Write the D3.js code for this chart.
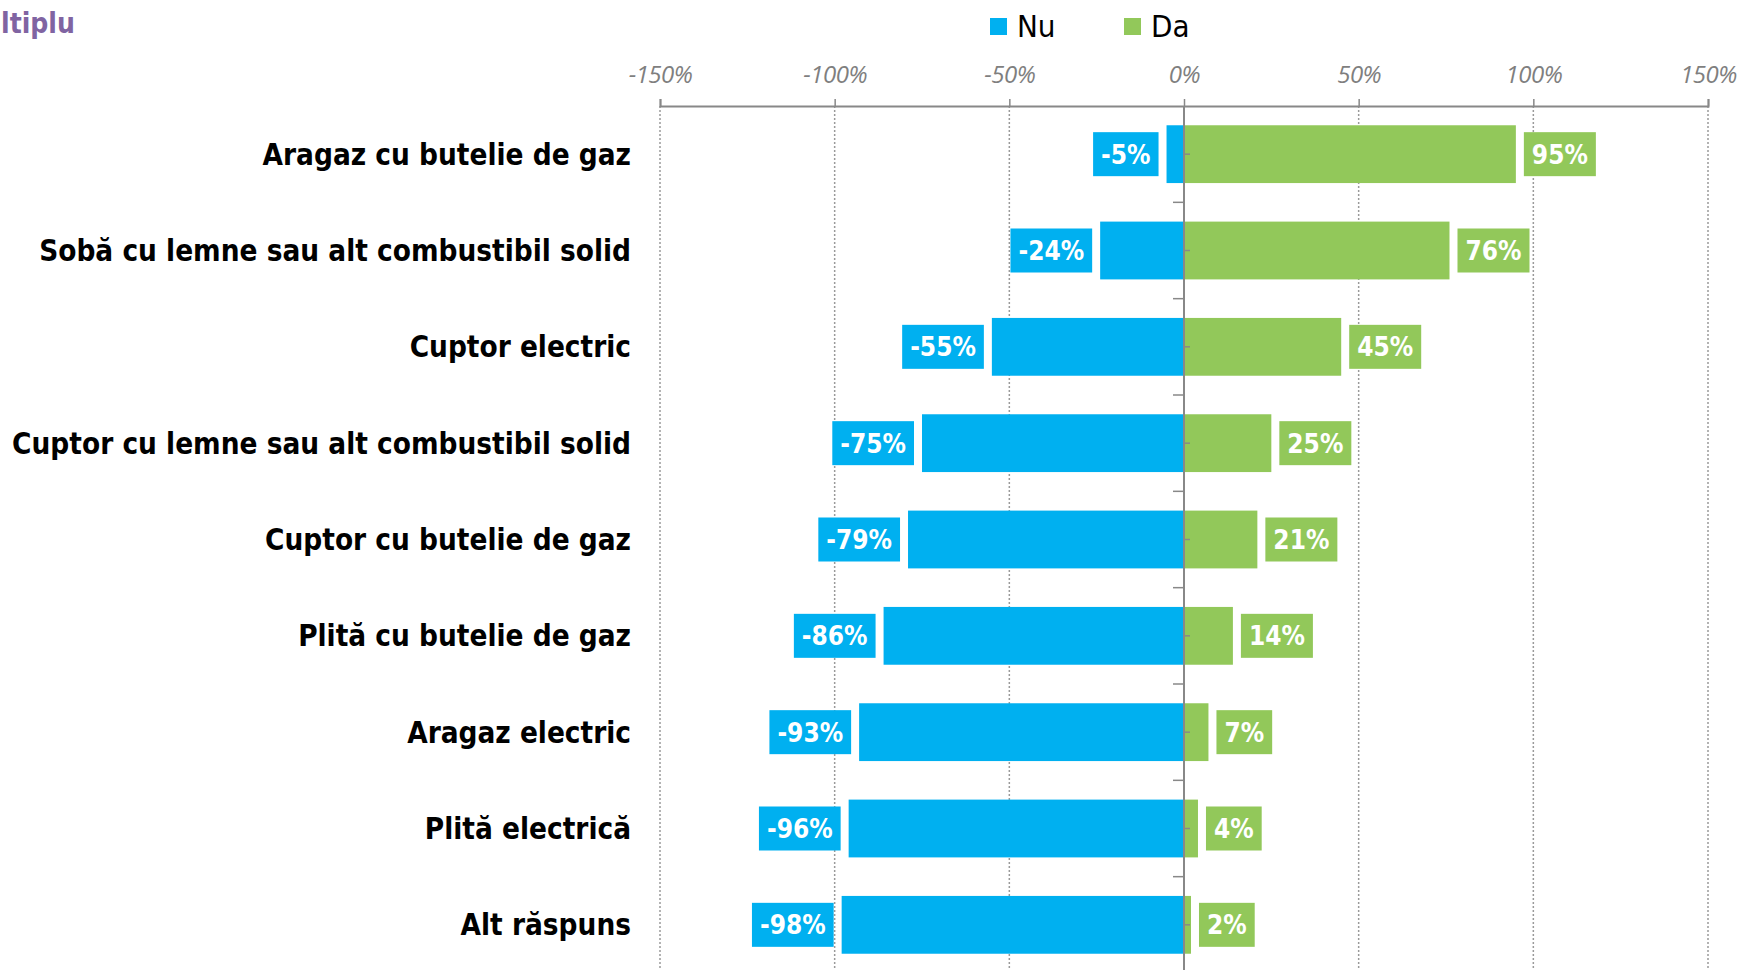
<!DOCTYPE html>
<html><head><meta charset="utf-8">
<script src="https://cdn.jsdelivr.net/npm/d3@7"></script>
<style>html,body{margin:0;padding:0;background:#fff;overflow:hidden}</style>
</head><body>
<svg id="chart" width="1742" height="970"></svg>
<script>
const categories = ["Aragaz cu butelie de gaz","Sobă cu lemne sau alt combustibil solid","Cuptor electric","Cuptor cu lemne sau alt combustibil solid","Cuptor cu butelie de gaz","Plită cu butelie de gaz","Aragaz electric","Plită electrică","Alt răspuns"];
const nuValues = [-5,-24,-55,-75,-79,-86,-93,-96,-98];
const daValues = [95,76,45,25,21,14,7,4,2];
const tickValues = [-150,-100,-50,0,50,100,150];
const seriesNames = ["Nu","Da"];
const colors = {Nu:"#00B0F0", Da:"#92C85A"};

const svg = d3.select("#chart");
const FONT = "'DejaVu Sans Condensed','DejaVu Sans',sans-serif";
const x = d3.scaleLinear().domain([-150,150]).range([660,1708]);
const y = d3.scaleBand().domain(categories).range([106,973]).paddingInner(0.4).paddingOuter(0.2);
const axisY = 106, bottom = 970;

// title fragment (visible part of the cropped title)
svg.append("text").attr("x",1).attr("y",33)
  .attr("font-family",FONT).attr("font-weight","bold").attr("font-size",28)
  .attr("fill","#8064A2").text("ltiplu");

// gridlines
svg.append("g").selectAll("line").data(tickValues.filter(d=>d!==0)).join("line")
  .attr("x1",d=>x(d)).attr("x2",d=>x(d)).attr("y1",axisY).attr("y2",bottom)
  .attr("stroke","#9a9a9a").attr("stroke-width",1.5).attr("stroke-dasharray","2,2");

// top axis
const ax = svg.append("g").attr("transform",`translate(0,${axisY})`)
  .call(d3.axisTop(x).tickValues(tickValues).tickSize(7).tickPadding(16).tickFormat(d=>d+"%"));
ax.select(".domain").attr("stroke","#888").attr("stroke-width",2);
ax.selectAll(".tick line").attr("stroke","#888").attr("stroke-width",1.5);
ax.selectAll(".tick text").attr("font-family","'Open Sans',sans-serif").attr("font-style","italic")
  .attr("font-size",24).attr("fill","#7f7f7f").attr("letter-spacing","-0.5");

// bars
const rows = categories.map((c,i)=>({c, nu:nuValues[i], da:daValues[i]}));
svg.append("g").selectAll("rect").data(rows).join("rect")
  .attr("x",d=>x(d.nu)).attr("width",d=>x(0)-x(d.nu))
  .attr("y",d=>y(d.c)).attr("height",y.bandwidth()).attr("fill",colors.Nu);
svg.append("g").selectAll("rect").data(rows).join("rect")
  .attr("x",x(0)).attr("width",d=>x(d.da)-x(0))
  .attr("y",d=>y(d.c)).attr("height",y.bandwidth()).attr("fill",colors.Da);

// vertical zero axis
svg.append("line").attr("x1",x(0)).attr("x2",x(0)).attr("y1",axisY).attr("y2",bottom)
  .attr("stroke","#888").attr("stroke-width",2);
const bounds = categories.slice(1).map(c=>y(c)-y.step()*y.paddingInner()/2);
svg.append("g").selectAll("line").data(bounds).join("line")
  .attr("x1",x(0)-11).attr("x2",x(0)).attr("y1",d=>d).attr("y2",d=>d)
  .attr("stroke","#888").attr("stroke-width",1.5);
svg.append("g").selectAll("line").data(categories).join("line")
  .attr("x1",x(0)).attr("x2",x(0)+6).attr("y1",d=>y(d)+y.bandwidth()/2).attr("y2",d=>y(d)+y.bandwidth()/2)
  .attr("stroke","#888").attr("stroke-width",1.5);

// category labels
const catG = svg.append("g");
const catTexts = catG.selectAll("text").data(categories).join("text")
  .attr("x",631).attr("y",d=>y(d)+y.bandwidth()/2).attr("dy","0.36em")
  .attr("text-anchor","end").attr("font-family",FONT).attr("font-weight","bold")
  .attr("font-size",28).attr("fill","#000").text(d=>d);
let maxW = d3.max(catTexts.nodes(), n=>n.getComputedTextLength());
catTexts.attr("font-size", 28*619/maxW);

// value labels
function valueLabel(g, val, cat, color, side){
  const cy = y(cat)+y.bandwidth()/2;
  const t = g.append("text").attr("font-family",FONT).attr("font-weight","bold")
    .attr("font-size",26).attr("fill","#fff").attr("y",cy).attr("dy","0.36em")
    .attr("text-anchor","middle").text(val+"%");
  const w = t.node().getComputedTextLength()+16, h = 44, gap = 8;
  const bx = side<0 ? x(val)-gap-w : x(val)+gap;
  g.insert("rect","text:last-child").attr("x",bx).attr("y",cy-h/2).attr("width",w).attr("height",h).attr("fill",color);
  t.attr("x",bx+w/2);
}
const lg = svg.append("g");
rows.forEach(r=>{
  valueLabel(lg.append("g"), r.nu, r.c, colors.Nu, -1);
  valueLabel(lg.append("g"), r.da, r.c, colors.Da, 1);
});

// legend
const legX = [990,1124];
seriesNames.forEach((s,i)=>{
  svg.append("rect").attr("x",legX[i]).attr("y",18).attr("width",17).attr("height",17).attr("fill",colors[s]);
  svg.append("text").attr("x",legX[i]+27).attr("y",37).attr("font-family",FONT)
    .attr("font-size",31).attr("fill","#000").text(s);
});
</script>
</body></html>
